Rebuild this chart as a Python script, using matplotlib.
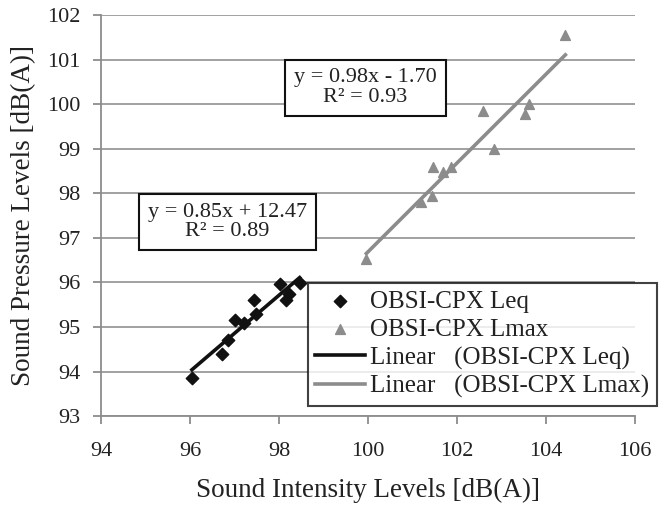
import numpy as np
import matplotlib as mpl

mpl.use('agg')

import matplotlib.pyplot as plt

# data
leq_x = [96.04, 96.71, 96.86, 97.01, 97.21, 97.48, 97.44, 98.01, 98.16, 98.21, 98.46]
leq_y = [93.86, 94.40, 94.70, 95.15, 95.10, 95.30, 95.60, 95.96, 95.60, 95.74, 95.98]

lmax_x = [99.96, 101.19, 101.43, 101.45, 101.68, 101.87, 102.59, 102.82, 103.53, 103.62, 104.43]
lmax_y = [96.52, 97.80, 97.95, 98.59, 98.47, 98.59, 99.85, 99.00, 99.79, 100.00, 101.55]

eq_leq = "y = 0.85x + 12.47\nR² = 0.89"
eq_lmax = "y = 0.98x - 1.70\nR² = 0.93"

plt.rcParams['font.family'] = ['Liberation Serif', 'DejaVu Serif']

fig = plt.figure(figsize=(6.61, 5.08), dpi=100)
ax = fig.add_axes([0.153, 0.181, 0.808, 0.789])

grey = '#8c8c8c'
txt = '#222222'

# grid first so points sit on top
ax.set_axisbelow(True)
ax.yaxis.grid(True, color='#9a9a9a', linewidth=1.3)

ax.scatter(leq_x, leq_y, marker='D', s=40, color='#111111', zorder=3, label='OBSI-CPX Leq')
ax.scatter(lmax_x, lmax_y, marker='^', s=50, color=grey, zorder=3, label='OBSI-CPX Lmax')

# excel style linear trendlines
p1 = np.polyfit(leq_x, leq_y, 1)
xs1 = np.array([min(leq_x), max(leq_x)])
ax.plot(xs1, np.polyval(p1, xs1), color='#111111', linewidth=2.6, zorder=2,
        label='Linear   (OBSI-CPX Leq)')

p2 = np.polyfit(lmax_x, lmax_y, 1)
xs2 = np.array([min(lmax_x), max(lmax_x)])
ax.plot(xs2, np.polyval(p2, xs2), color=grey, linewidth=2.6, zorder=2,
        label='Linear   (OBSI-CPX Lmax)')

ax.set_xlim(94, 106)
ax.set_ylim(93, 102)
ax.set_xticks(np.arange(94, 107, 2))
ax.set_yticks(np.arange(93, 103, 1))

for s in ['top', 'right']:
    ax.spines[s].set_visible(False)
for s in ['left', 'bottom']:
    ax.spines[s].set_color(grey)
    ax.spines[s].set_linewidth(1.3)

ax.tick_params(axis='both', colors=grey, labelcolor=txt, labelsize=16,
               direction='out', length=6, width=1.3, pad=9)
ax.tick_params(axis='x', pad=13)

ax.set_xlabel('Sound Intensity Levels [dB(A)]', fontsize=19.5, color=txt)
ax.set_ylabel('Sound Pressure Levels [dB(A)]', fontsize=19.5, color=txt)
ax.xaxis.set_label_coords(0.5, -0.155)
ax.yaxis.set_label_coords(-0.122, 0.5)

box = dict(boxstyle='square,pad=0.4', facecolor='white', edgecolor='#111111', linewidth=1.5)
ax.text(96.84, 97.36, eq_leq, ha='center', va='center', fontsize=16, color=txt,
        bbox=box, linespacing=1.05)
ax.text(99.94, 100.37, eq_lmax, ha='center', va='center', fontsize=16, color=txt,
        bbox=box, linespacing=1.05)

leg = ax.legend(loc='upper right', bbox_to_anchor=(0.994, 0.443), bbox_transform=fig.transFigure,
                fontsize=18, frameon=True, fancybox=False, handlelength=2.0,
                handletextpad=0.2, borderpad=0.3, borderaxespad=0, labelspacing=0.22)
leg.get_frame().set_edgecolor('#111111')
leg.get_frame().set_linewidth(1.5)
for t in leg.get_texts():
    t.set_color(txt)

fig.savefig('out.png', dpi=100)
